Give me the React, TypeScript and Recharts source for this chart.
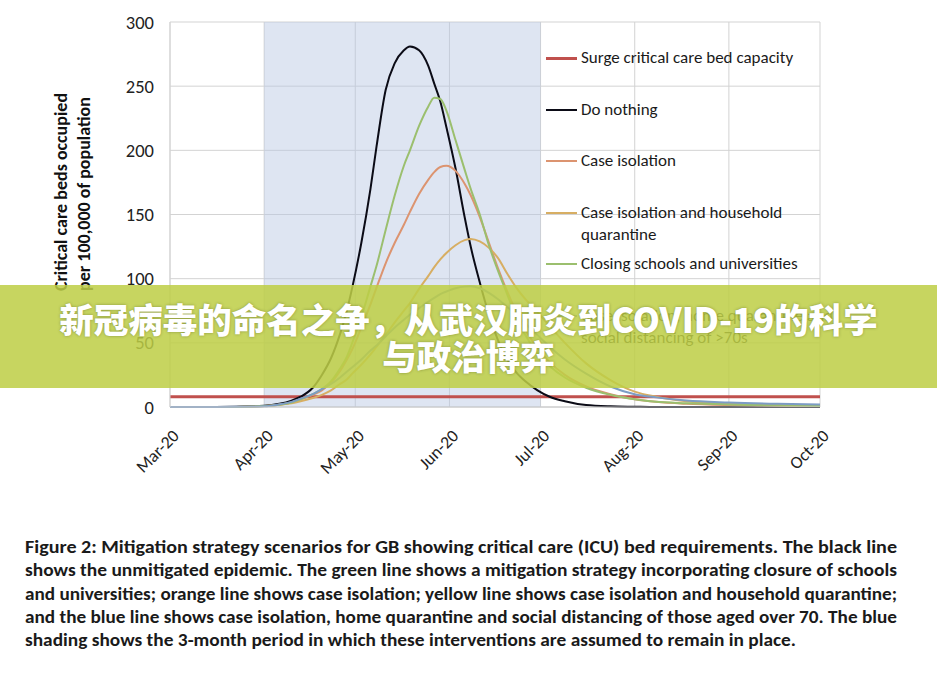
import React from 'react';
import { LineChart, Line, XAxis, YAxis, CartesianGrid, ReferenceArea, Legend } from 'recharts';

const FONT = "Carlito, Lato, 'Open Sans', sans-serif";

// days since 1 Mar 2020
const days = [0, 15, 31, 36, 40, 43, 47, 50, 53, 56, 58, 60, 63, 66, 68, 71, 74, 77, 79, 82, 85, 87, 89, 91, 94, 97, 99, 102, 105, 108, 111, 114, 117, 121, 125, 130, 137, 145, 153, 160, 170, 184, 200, 214];

const doNothing = [0, 0, 1, 2.5, 5, 8, 15, 25, 38, 57, 73, 93, 128, 170, 203, 247, 268, 278, 281, 278, 266, 252, 238, 218, 186, 148, 125, 97, 72, 52, 37, 27, 20, 13, 8, 4.5, 1.5, 0.5, 0.2, 0, 0, 0, 0, 0];
const closingSchools = [0, 0, 0.7, 1.8, 3.5, 6, 10, 14, 20, 30, 38, 50, 70, 94, 110, 138, 165, 188, 200, 219, 234, 241, 240, 231, 208, 185, 170, 150, 126, 106, 88, 70, 56, 42, 32, 23, 15, 9.5, 6, 4, 3, 2, 1.2, 0.8];
const caseIsolation = [0, 0, 0.7, 1.8, 3.5, 6, 9.5, 13, 19, 28, 36, 45, 62, 80, 93, 112, 128, 142, 152, 166, 177, 183, 187, 188, 184, 174, 165, 148, 128, 108, 90, 74, 60, 46, 35, 25, 16, 10, 6, 4, 2.5, 1.5, 1, 0.7];
const householdQuarantine = [0, 0, 0.7, 1.8, 3, 4.5, 7, 9.5, 13, 18, 21, 26, 33, 41, 47, 56, 66, 75, 81, 92, 102, 109, 115, 120, 126, 130, 131, 129, 124, 116, 104, 93, 84, 74, 63, 50, 34, 21, 12, 8, 4.5, 2.5, 1.5, 1];
const socialDistancing70 = [0, 0, 0.5, 2, 4, 6.5, 10, 14, 18, 23, 27, 31, 37, 44, 48, 55, 62, 68, 72, 77, 82, 85, 88, 90, 92.5, 93.8, 94, 92.5, 89, 84, 78, 72, 65, 56, 47, 37, 26, 16, 10, 7.5, 5, 3.5, 2.5, 2];
const surgeCapacity = 8;

const monthTicks = [0, 31, 61, 92, 122, 153, 184, 214];
const monthLabels = ['Mar-20', 'Apr-20', 'May-20', 'Jun-20', 'Jul-20', 'Aug-20', 'Sep-20', 'Oct-20'];
const yTicks = [0, 50, 100, 150, 200, 250, 300];
const interventionStart = 31;
const interventionEnd = 122;

const series = [
  { key: 'surge', name: ['Surge critical care bed capacity'], color: '#c0504d', width: 3 },
  { key: 'nothing', name: ['Do nothing'], color: '#0b0b16', width: 2 },
  { key: 'isolation', name: ['Case isolation'], color: '#dc9470', width: 2 },
  { key: 'household', name: ['Case isolation and household', 'quarantine'], color: '#d7ae63', width: 2 },
  { key: 'schools', name: ['Closing schools and universities'], color: '#9bbf6e', width: 2 },
  { key: 'distancing', name: ['Case isolation, home quarantine and', 'social distancing of >70s'], color: '#7c9cc4', width: 2 },
];

const data = days.map((d, i) => ({
  day: d,
  surge: surgeCapacity,
  nothing: doNothing[i],
  isolation: caseIsolation[i],
  household: householdQuarantine[i],
  schools: closingSchools[i],
  distancing: socialDistancing70[i],
}));

const captionLines = [
  'Figure 2: Mitigation strategy scenarios for GB showing critical care (ICU) bed requirements. The black line',
  'shows the unmitigated epidemic. The green line shows a mitigation strategy incorporating closure of schools',
  'and universities; orange line shows case isolation; yellow line shows case isolation and household quarantine;',
  'and the blue line shows case isolation, home quarantine and social distancing of those aged over 70. The blue',
  'shading shows the 3-month period in which these interventions are assumed to remain in place.',
];
const captionWidths = [872, 872, 872, 872, 771];

const XTick = (props: any) => {
  const { x, y, payload } = props;
  const idx = monthTicks.indexOf(payload.value);
  return (
    <g transform={`translate(${x + 10},${y + 28})`}>
      <text x={0} y={0} textAnchor="end" transform="rotate(-45)" fontSize={17.5} fill="#222" fontFamily={FONT}>
        {monthLabels[idx]}
      </text>
    </g>
  );
};

const YLabel = () => (
  <g fontFamily={FONT} fontWeight="bold" fontSize={18} fill="#111">
    <text transform="translate(61,192) rotate(-90)" textAnchor="middle" dominantBaseline="central">
      Critical care beds occupied
    </text>
    <text transform="translate(84,194) rotate(-90)" textAnchor="middle" dominantBaseline="central">
      per 100,000 of population
    </text>
  </g>
);

const LegendBox = () => (
  <div style={{ position: 'absolute', left: 0, top: 0, width: 937, height: 500, pointerEvents: 'none', fontFamily: FONT }}>
    {series.map((s, i) => (
      <div key={s.key} style={{ position: 'absolute', left: 546, top: 58 + i * 51.6 - 11, width: 270 }}>
        <div style={{ position: 'absolute', left: 0, top: 11 - s.width / 2, width: 31, height: s.width, background: s.color }} />
        <div style={{ position: 'absolute', left: 35, top: 0, fontSize: 17, lineHeight: '22px', color: '#1a1a1a', whiteSpace: 'nowrap' }}>
          {s.name.map((n, j) => (
            <div key={j}>{n}</div>
          ))}
        </div>
      </div>
    ))}
  </div>
);

export default function App() {
  return (
    <div style={{ position: 'absolute', left: 0, top: 0, width: 937, height: 675, background: '#fff', overflow: 'hidden' }}>
      <LineChart width={937} height={500} data={data} margin={{ top: 22, right: 117, left: 110, bottom: 33 }}>
        <CartesianGrid stroke="#d3d3d3" strokeWidth={1} />
        <ReferenceArea x1={interventionStart} x2={interventionEnd} y1={0} y2={300} fill="#b6c6e2" fillOpacity={0.45} stroke="none" />
        <XAxis
          dataKey="day"
          type="number"
          domain={[0, 214]}
          ticks={monthTicks}
          tick={<XTick />}
          tickLine={false}
          tickSize={0}
          axisLine={{ stroke: '#c8c8c8' }}
          height={60}
          interval={0}
        />
        <YAxis
          type="number"
          domain={[0, 300]}
          ticks={yTicks}
          width={60}
          tickLine={false}
          tickSize={0}
          tickMargin={16}
          axisLine={{ stroke: '#d3d3d3' }}
          tick={{ fontSize: 18.5, fill: '#222', fontFamily: FONT }}
          label={{ content: () => <YLabel /> }}
        />
        <Legend layout="vertical" align="center" verticalAlign="middle" content={() => <LegendBox />} wrapperStyle={{ left: 0, top: 0, width: 937, height: 500 }} />
        {series.map((s) => (
          <Line
            key={s.key}
            type="monotone"
            dataKey={s.key}
            stroke={s.color}
            strokeWidth={s.width}
            dot={false}
            activeDot={false}
            isAnimationActive={false}
          />
        ))}
      </LineChart>

      <div
        style={{
          position: 'absolute',
          left: 0,
          top: 285,
          width: 937,
          height: 103,
          background: 'rgba(190,206,70,0.86)',
          color: '#fff',
          fontFamily: "'Noto Sans CJK SC', sans-serif",
          fontWeight: 900,
          fontSize: 34.5,
          lineHeight: '37px',
          textAlign: 'center',
          paddingTop: 15,
          boxSizing: 'border-box',
          textShadow: '0 0 3px rgba(60,70,20,0.45)',
        }}
      >
        <div>新冠病毒的命名之争，从武汉肺炎到COVID-19的科学</div>
        <div>与政治博弈</div>
      </div>

      <svg width={937} height={175} style={{ position: 'absolute', left: 0, top: 500 }}>
        {captionLines.map((t, i) => (
          <text
            key={i}
            x={25}
            y={53 + i * 23.3}
            fontFamily={FONT}
            fontWeight="bold"
            fontSize={17.5}
            fill="#1a1a1a"
            textLength={captionWidths[i]}
            lengthAdjust="spacingAndGlyphs"
          >
            {t}
          </text>
        ))}
      </svg>
    </div>
  );
}
